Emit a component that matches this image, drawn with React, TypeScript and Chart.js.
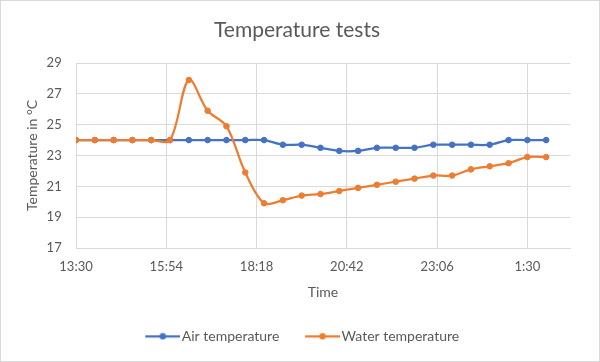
import React, { useEffect, useRef } from "react";
import { Chart, registerables } from "chart.js";

Chart.register(...registerables);

// ---- data ----
const times = [
  "13:30", "14:00", "14:30", "15:00", "15:30", "16:00", "16:30", "17:00", "17:30",
  "18:00", "18:30", "19:00", "19:30", "20:00", "20:30", "21:00", "21:30", "22:00",
  "22:30", "23:00", "23:30", "0:00", "0:30", "1:00", "1:30", "2:00",
];
const airTemps = [
  24, 24, 24, 24, 24, 24, 24, 24, 24, 24, 24, 23.7, 23.7, 23.5, 23.3, 23.3, 23.5,
  23.5, 23.5, 23.7, 23.7, 23.7, 23.7, 24, 24, 24,
];
const waterTemps = [
  24, 24, 24, 24, 24, 24, 27.9, 25.9, 24.9, 21.9, 19.9, 20.1, 20.4, 20.5, 20.7,
  20.9, 21.1, 21.3, 21.5, 21.7, 21.7, 22.1, 22.3, 22.5, 22.9, 22.9,
];
const xTickLabels = ["13:30", "15:54", "18:18", "20:42", "23:06", "1:30"];
const xAxisEnd = "2:38";
const yMin = 17;
const yMax = 29;
const yStep = 2;

const seriesNames = ["Air temperature", "Water temperature"];
const chartTitle = "Temperature tests";
const xTitle = "Time";
const yTitle = "Temperature in °C";

// ---- styles ----
const BLUE = "#4472C4";
const ORANGE = "#ED7D31";
const GRID = "#D9D9D9";
const TEXT = "#595959";
const FONT = "Lato";

function toMinutes(s: string): number {
  const [h, m] = s.split(":").map(Number);
  let t = h * 60 + m;
  if (h < 12) t += 1440;
  return t;
}

function fmt(v: number): string {
  const t = Math.round(v) % 1440;
  const h = Math.floor(t / 60);
  const m = t % 60;
  return `${h}:${m < 10 ? "0" + m : m}`;
}

function makeLegendImage(color: string): HTMLCanvasElement {
  const c = document.createElement("canvas");
  c.width = 51;
  c.height = 8;
  const ctx = c.getContext("2d")!;
  ctx.strokeStyle = color;
  ctx.lineWidth = 2.25;
  ctx.beginPath();
  ctx.moveTo(16, 4);
  ctx.lineTo(51, 4);
  ctx.stroke();
  ctx.fillStyle = color;
  ctx.beginPath();
  ctx.arc(33.5, 4, 3.2, 0, Math.PI * 2);
  ctx.fill();
  return c;
}

export default function App() {
  const ref = useRef<HTMLCanvasElement>(null);

  useEffect(() => {
    const imgs = [makeLegendImage(BLUE), makeLegendImage(ORANGE)];
    const mk = (vals: number[]) => times.map((t, i) => ({ x: toMinutes(t), y: vals[i] }));
    const chart = new Chart(ref.current!, {
      type: "line",
      data: {
        datasets: [
          {
            label: seriesNames[0],
            data: mk(airTemps),
            borderColor: BLUE,
            backgroundColor: BLUE,
            pointBackgroundColor: BLUE,
            pointBorderColor: BLUE,
            pointRadius: 2.8,
            pointBorderWidth: 1,
            borderWidth: 2.25,
            tension: 0.33,
            order: 1,
          },
          {
            label: seriesNames[1],
            data: mk(waterTemps),
            borderColor: ORANGE,
            backgroundColor: ORANGE,
            pointBackgroundColor: ORANGE,
            pointBorderColor: ORANGE,
            pointRadius: 2.8,
            pointBorderWidth: 1,
            borderWidth: 2.25,
            tension: 0.33,
            order: 0,
          },
        ],
      },
      options: {
        responsive: false,
        animation: false,
        layout: { padding: { left: 0, right: 6, top: 0, bottom: 7.7 } },
        scales: {
          x: {
            type: "linear",
            min: toMinutes(xTickLabels[0]),
            max: toMinutes(xAxisEnd),
            afterBuildTicks: (s: any) => {
              s.ticks = xTickLabels.map((l) => ({ value: toMinutes(l) }));
            },
            afterFit: (s: any) => {
              s.height = 66;
              s.paddingRight = 29;
            },
            ticks: {
              callback: (v: any) => fmt(Number(v)),
              color: TEXT,
              font: { family: FONT, size: 13 },
              padding: 11,
              maxRotation: 0,
              autoSkip: false,
            },
            grid: { color: GRID, drawTicks: false },
            border: { color: GRID },
            title: {
              display: true,
              text: xTitle,
              color: TEXT,
              font: { family: FONT, size: 14 },
              padding: { top: 0, bottom: 13.6 },
            },
          },
          y: {
            min: yMin,
            max: yMax,
            afterFit: (s: any) => {
              s.width = 75;
            },
            ticks: {
              stepSize: yStep,
              padding: 14.3,
              color: TEXT,
              font: { family: FONT, size: 13 },
            },
            grid: { color: GRID, drawTicks: false },
            border: { display: false },
            title: {
              display: true,
              text: yTitle,
              color: TEXT,
              font: { family: FONT, size: 14 },
              padding: { top: 23.1, bottom: 0 },
            },
          },
        },
        plugins: {
          title: {
            display: true,
            text: chartTitle,
            color: TEXT,
            font: { family: FONT, size: 21, weight: "normal" },
            padding: { top: 16.4, bottom: 20.4 },
          },
          legend: {
            position: "bottom",
            labels: {
              usePointStyle: true,
              pointStyleWidth: 40,
              padding: 15.3,
              color: TEXT,
              font: { family: FONT, size: 14 },
              sort: (a: any, b: any) => a.datasetIndex - b.datasetIndex,
              generateLabels: (c: any) => {
                const items = (Chart.defaults.plugins.legend.labels as any).generateLabels(c);
                return items.map((it: any) => ({ ...it, pointStyle: imgs[it.datasetIndex] }));
              },
            },
          },
          tooltip: { enabled: false },
        },
      } as any,
    });
    return () => chart.destroy();
  }, []);

  return (
    <div
      style={{
        position: "absolute",
        left: 0,
        top: 0,
        width: 600,
        height: 362,
        border: "1px solid #D9D9D9",
        boxSizing: "border-box",
        background: "#fff",
      }}
    >
      <canvas ref={ref} width={598} height={360} style={{ display: "block" }} />
    </div>
  );
}
